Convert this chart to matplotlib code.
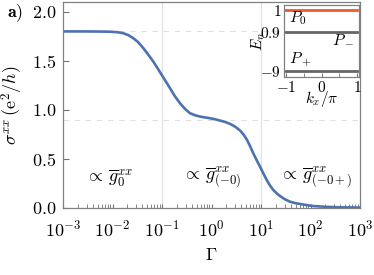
import numpy as np
import matplotlib
matplotlib.use("Agg")
import matplotlib.pyplot as plt

plt.rcParams["font.family"] = "serif"
plt.rcParams["font.serif"] = ["cmr10"]
plt.rcParams["mathtext.fontset"] = "cm"
plt.rcParams["axes.formatter.use_mathtext"] = True

# conductivity curve (log10 of Gamma, sigma)
log_gamma = [-3.0, -2.6, -2.3, -2.05, -1.9, -1.782, -1.68, -1.58, -1.48,
             -1.378, -1.28, -1.176, -1.09, -1.006, -0.92, -0.838, -0.74,
             -0.636, -0.535, -0.434, -0.33, -0.232, -0.13, -0.03, 0.07,
             0.172, 0.27, 0.374, 0.475, 0.576, 0.645, 0.711, 0.78, 0.844,
             0.91, 0.98, 1.05, 1.115, 1.18, 1.248, 1.32, 1.384, 1.48, 1.586,
             1.69, 1.788, 1.92, 2.057, 2.3, 2.6, 3.0]
sigma = [1.80, 1.80, 1.799, 1.797, 1.792, 1.782, 1.762, 1.731, 1.69,
         1.63, 1.565, 1.493, 1.425, 1.357, 1.288, 1.221, 1.14,
         1.068, 1.01, 0.966, 0.945, 0.932, 0.923, 0.915, 0.905,
         0.891, 0.878, 0.858, 0.83, 0.79, 0.75, 0.70, 0.63, 0.558,
         0.49, 0.422, 0.35, 0.286, 0.23, 0.184, 0.148, 0.122, 0.09, 0.064,
         0.05, 0.041, 0.03, 0.020, 0.012, 0.007, 0.004]
gamma = 10 ** np.array(log_gamma)

plateaus = [1.8, 0.9]
gamma_marks = [0.1, 10]

regime_labels = [r"$\propto\,\overline{g}_0^{xx}$",
                 r"$\propto\,\overline{g}^{xx}_{(-0)}$",
                 r"$\propto\,\overline{g}^{xx}_{(-0+)}$"]
regime_x = [0.0085, 1.0, 125]
regime_y = 0.31

# inset: band energies
levels = [1, 0.9, -9]
level_colors = ["#f15a29", "#666666", "#666666"]
level_names = [r"$P_0$", r"$P_-$", r"$P_+$"]
name_x = [-0.92, 0.92, -0.92]
name_y = [0.963, -1.1, -6.2]
name_ha = ["left", "right", "left"]
k = [-1, 1]

fig = plt.figure(figsize=(3.74, 2.75), dpi=100)
ax = fig.add_axes([63 / 374, 1 - 208 / 275, 297 / 374, 206 / 275])

for g in gamma_marks:
    ax.axvline(g, color="#e0e0e0", lw=0.8, zorder=0)
for p in plateaus:
    ax.axhline(p, color="#e0e0e0", lw=0.8, ls=(0, (5, 5)), zorder=0)

ax.plot(gamma, sigma, color="#4c72b0", lw=1.9)
ax.set_xscale("log")
ax.set_xlim(1e-3, 1e3)
ax.set_ylim(0, 2.1)
ax.set_yticks([0, 0.5, 1.0, 1.5, 2.0])
ax.set_xticks([1e-3, 1e-2, 1e-1, 1, 10, 100, 1000])
ax.tick_params(axis="both", which="both", direction="in", color="0.45",
               labelsize=13)
ax.tick_params(axis="x", which="both", length=3, pad=8)
ax.tick_params(axis="y", length=4, pad=5)
for s in ax.spines.values():
    s.set_color("0.5")
    s.set_linewidth(0.9)

ax.set_xlabel(r"$\Gamma$", fontsize=13, labelpad=5)
ax.set_ylabel(r"$\sigma^{xx}\,(\mathrm{e}^2/h)$", fontsize=13, labelpad=5)

for lab, x in zip(regime_labels, regime_x):
    ax.text(x, regime_y, lab, fontsize=13, ha="center", va="center")

fig.text(0.02, 1 - 13 / 275, r"$\mathbf{a}$)", fontsize=13, va="center")

# inset with a broken energy scale
E_nodes = [-30, -9, 0.9, 1, 2]
p_nodes = [6 - 21 * 39 / 9.9, 6, 45, 67, 67 + 220]


def fwd(e):
    return np.interp(e, E_nodes, p_nodes)


def inv(p):
    return np.interp(p, p_nodes, E_nodes)


ins = fig.add_axes([284 / 374, 1 - 77 / 275, 75 / 374, 72 / 275])
ins.set_yscale("function", functions=(fwd, inv))
for lv, c in zip(levels, level_colors):
    ins.plot(k, [lv, lv], color=c, lw=2.0)
for nm, x, y, ha in zip(level_names, name_x, name_y, name_ha):
    ins.text(x, y, nm, fontsize=11.5, ha=ha, va="center")
ins.set_xlim(-1.06, 1.06)
ins.set_ylim(-10.5, 1.023)
ins.set_yticks(levels)
ins.set_yticklabels([r"$1$", r"$0.9$", r"$-9$"])
ins.set_xticks([-1, 0, 1])
ins.set_xticklabels([r"$-1$", r"$0$", r"$1$"])
ins.set_xticks([-0.5, 0.5], minor=True)
ins.yaxis.set_minor_locator(matplotlib.ticker.NullLocator())
ins.tick_params(axis="both", which="both", direction="in", color="0.45",
                labelsize=11, length=3, pad=2)
for s in ins.spines.values():
    s.set_color("0.5")
    s.set_linewidth(0.9)
ins.set_xlabel(r"$k_x/\pi$", fontsize=11, labelpad=-4)
ins.set_ylabel(r"$E_n$", fontsize=11, labelpad=-5)

fig.savefig("out.png", dpi=100)
